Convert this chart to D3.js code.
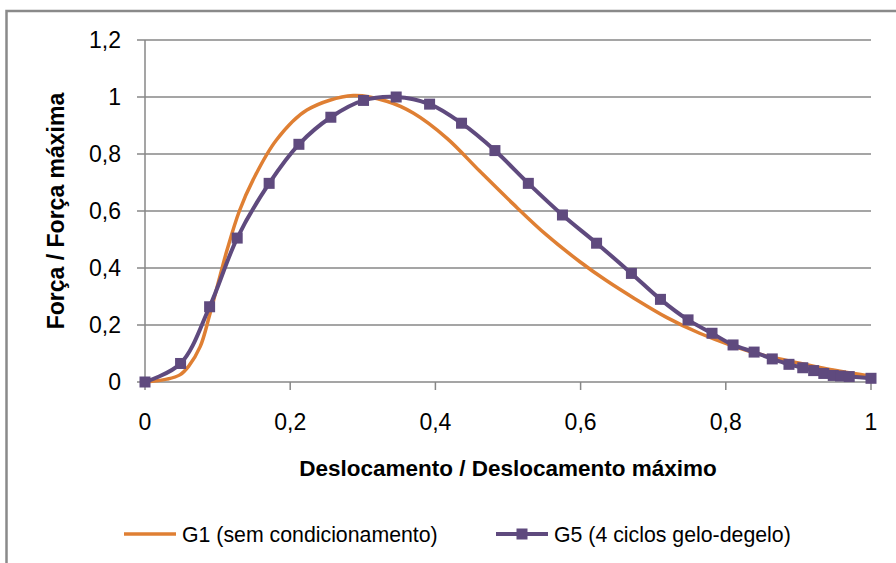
<!DOCTYPE html>
<html lang="pt">
  <head>
    <meta charset="UTF-8" />
    <script src="https://cdn.jsdelivr.net/npm/d3@7"></script>
    <style>
      * {
        margin: 0;
        padding: 0;
      }
      body {
        background: #fff;
      }
      svg {
        display: block;
        font-family: 'Liberation Sans', Arial, sans-serif;
      }
    </style>
    <title>Força / Deslocamento</title>
  </head>
  <body>
    <div id="chart"></div>
  </body>
  <script>
    // G1 (sem condicionamento) - smooth curve
    const g1X = [0, 0.03, 0.048, 0.06, 0.076, 0.089, 0.103, 0.113, 0.13, 0.149, 0.181, 0.223, 0.287, 0.333, 0.37, 0.416, 0.461, 0.507, 0.553, 0.599, 0.636, 0.673, 0.719, 0.764, 0.81, 0.856, 0.902, 0.948, 1.0];
    const g1Y = [0, 0.01, 0.025, 0.055, 0.124, 0.235, 0.369, 0.463, 0.6, 0.71, 0.849, 0.954, 1.005, 0.985, 0.943, 0.855, 0.74, 0.625, 0.516, 0.422, 0.355, 0.295, 0.226, 0.171, 0.126, 0.091, 0.066, 0.042, 0.02];

    // G5 (4 ciclos gelo-degelo) - marked points
    const g5X = [0, 0.049, 0.089, 0.127, 0.171, 0.212, 0.256, 0.301, 0.346, 0.392, 0.436, 0.482, 0.528, 0.575, 0.622, 0.67, 0.71, 0.748, 0.781, 0.81, 0.839, 0.864, 0.887, 0.906, 0.921, 0.935, 0.948, 0.958, 0.97, 1.0];
    const g5Y = [0, 0.065, 0.264, 0.505, 0.697, 0.834, 0.929, 0.988, 1.0, 0.975, 0.908, 0.812, 0.697, 0.586, 0.487, 0.381, 0.29, 0.218, 0.171, 0.13, 0.105, 0.081, 0.062, 0.05, 0.04, 0.03, 0.023, 0.021, 0.019, 0.013];

    const xTicks = [0, 0.2, 0.4, 0.6, 0.8, 1];
    const yTicks = [0, 0.2, 0.4, 0.6, 0.8, 1, 1.2];
    const seriesNames = ['G1 (sem condicionamento)', 'G5 (4 ciclos gelo-degelo)'];

    const width = 896;
    const height = 563;
    const orange = '#df7f33';
    const purple = '#5f4a7e';
    const gridColor = '#878787';
    const fmt = (v) => String(v).replace('.', ',');

    const x = d3.scaleLinear().domain([0, 1]).range([145, 871]);
    const y = d3.scaleLinear().domain([0, 1.2]).range([382, 40]);

    const svg = d3
      .select('#chart')
      .append('svg')
      .attr('width', width)
      .attr('height', height);

    // outer chart border (runs off right and bottom)
    svg
      .append('rect')
      .attr('x', 6.5)
      .attr('y', 11)
      .attr('width', 900)
      .attr('height', 600)
      .attr('fill', 'none')
      .attr('stroke', '#8a8a8a')
      .attr('stroke-width', 2.5);

    // gridlines + left tick marks
    svg
      .append('g')
      .selectAll('line')
      .data(yTicks)
      .join('line')
      .attr('x1', 137)
      .attr('x2', x(1))
      .attr('y1', (d) => y(d))
      .attr('y2', (d) => y(d))
      .attr('stroke', gridColor)
      .attr('stroke-width', 1.5);

    // y axis line
    svg
      .append('line')
      .attr('x1', x(0))
      .attr('x2', x(0))
      .attr('y1', y(1.2))
      .attr('y2', y(0))
      .attr('stroke', gridColor)
      .attr('stroke-width', 1.5);

    // x tick marks
    svg
      .append('g')
      .selectAll('line')
      .data(xTicks)
      .join('line')
      .attr('x1', (d) => x(d))
      .attr('x2', (d) => x(d))
      .attr('y1', y(0))
      .attr('y2', y(0) + 8)
      .attr('stroke', gridColor)
      .attr('stroke-width', 1.5);

    // tick labels
    svg
      .append('g')
      .selectAll('text')
      .data(yTicks)
      .join('text')
      .attr('x', 121)
      .attr('y', (d) => y(d))
      .attr('dy', '0.36em')
      .attr('text-anchor', 'end')
      .attr('font-size', 23)
      .attr('fill', '#000')
      .text(fmt);

    svg
      .append('g')
      .selectAll('text')
      .data(xTicks)
      .join('text')
      .attr('x', (d) => x(d))
      .attr('y', 429.5)
      .attr('text-anchor', 'middle')
      .attr('font-size', 23)
      .attr('fill', '#000')
      .text(fmt);

    // axis titles
    svg
      .append('text')
      .attr('x', (x(0) + x(1)) / 2)
      .attr('y', 476)
      .attr('text-anchor', 'middle')
      .attr('font-size', 22.5)
      .attr('font-weight', 'bold')
      .text('Deslocamento / Deslocamento máximo');

    svg
      .append('text')
      .attr('transform', `translate(64,${(y(0) + y(1.2)) / 2}) rotate(-90)`)
      .attr('text-anchor', 'middle')
      .attr('font-size', 23)
      .attr('font-weight', 'bold')
      .text('Força / Força máxima');

    // lines
    const g1 = g1X.map((v, i) => [v, g1Y[i]]);
    const g5 = g5X.map((v, i) => [v, g5Y[i]]);
    const line = d3
      .line()
      .x((d) => x(d[0]))
      .y((d) => y(d[1]))
      .curve(d3.curveCatmullRom.alpha(0.5));

    svg
      .append('path')
      .datum(g1)
      .attr('d', line)
      .attr('fill', 'none')
      .attr('stroke', orange)
      .attr('stroke-width', 3.5);

    svg
      .append('path')
      .datum(g5)
      .attr('d', line)
      .attr('fill', 'none')
      .attr('stroke', purple)
      .attr('stroke-width', 4);

    const ms = 11;
    svg
      .append('g')
      .selectAll('rect')
      .data(g5)
      .join('rect')
      .attr('x', (d) => x(d[0]) - ms / 2)
      .attr('y', (d) => y(d[1]) - ms / 2)
      .attr('width', ms)
      .attr('height', ms)
      .attr('fill', purple);

    // legend
    const legY = 534;
    const legend = svg.append('g');
    legend
      .append('line')
      .attr('x1', 124)
      .attr('x2', 176)
      .attr('y1', legY)
      .attr('y2', legY)
      .attr('stroke', orange)
      .attr('stroke-width', 3.5);
    legend
      .append('text')
      .attr('x', 182)
      .attr('y', legY)
      .attr('dy', '0.36em')
      .attr('font-size', 21.3)
      .text(seriesNames[0]);

    legend
      .append('line')
      .attr('x1', 496)
      .attr('x2', 548)
      .attr('y1', legY)
      .attr('y2', legY)
      .attr('stroke', purple)
      .attr('stroke-width', 4);
    legend
      .append('rect')
      .attr('x', 522 - ms / 2)
      .attr('y', legY - ms / 2)
      .attr('width', ms)
      .attr('height', ms)
      .attr('fill', purple);
    legend
      .append('text')
      .attr('x', 554)
      .attr('y', legY)
      .attr('dy', '0.36em')
      .attr('font-size', 21.3)
      .text(seriesNames[1]);
  </script>
</html>
